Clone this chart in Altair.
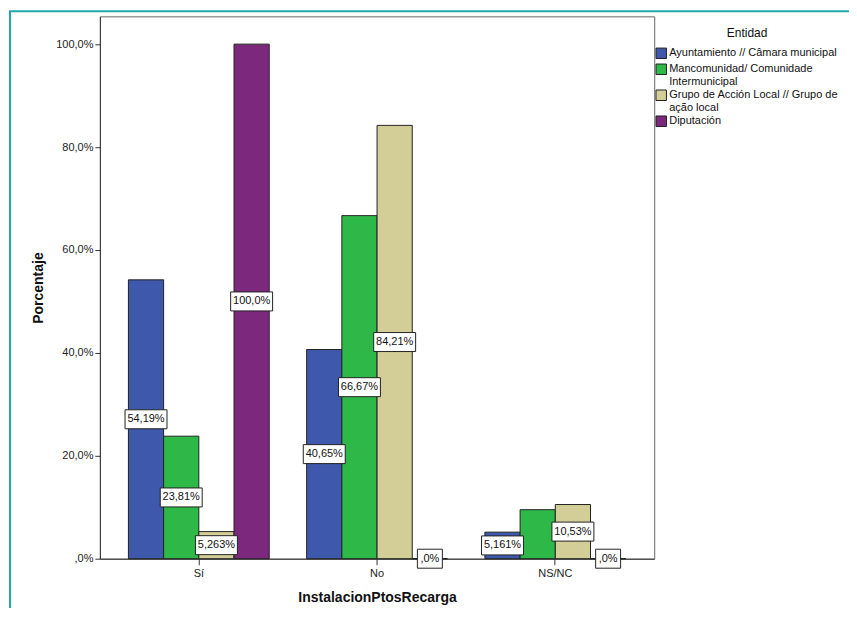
import altair as alt
import pandas as pd

categories = ["Sí", "No", "NS/NC"]
entities = [
    "Ayuntamiento // Câmara municipal",
    "Mancomunidad/ Comunidade\nIntermunicipal",
    "Grupo de Acción Local // Grupo de\nação local",
    "Diputación",
]
colors = ["#3E58AC", "#2EB848", "#D3CE97", "#7C287D"]

ayuntamiento = [54.19, 40.65, 5.161]
mancomunidad = [23.81, 66.67, 9.524]
grupo = [5.263, 84.21, 10.53]
diputacion = [100.0, 0.0, 0.0]

lab_ayuntamiento = ["54,19%", "40,65%", "5,161%"]
lab_mancomunidad = ["23,81%", "66,67%", ""]
lab_grupo = ["5,263%", "84,21%", "10,53%"]
lab_diputacion = ["100,0%", ",0%", ",0%"]

series = [ayuntamiento, mancomunidad, grupo, diputacion]
labels = [lab_ayuntamiento, lab_mancomunidad, lab_grupo, lab_diputacion]

rows = []
for ent, vals, labs in zip(entities, series, labels):
    for cat, v, l in zip(categories, vals, labs):
        rows.append({"cat": cat, "entidad": ent, "value": v, "label": l,
                     "box": "short" if len(l) <= 3 else "long"})
df = pd.DataFrame(rows)

FONT = "Liberation Sans"

x_enc = alt.X(
    "cat:N", sort=categories,
    scale=alt.Scale(domain=categories, paddingInner=0.21, paddingOuter=0.16),
    axis=alt.Axis(title="InstalacionPtosRecarga", labelAngle=0, tickSize=6,
                  labelPadding=3, titlePadding=12, titleFontSize=14,
                  titleFontWeight="bold", labelFontSize=11, domainColor="#333",
                  tickColor="#333", labelColor="#222", titleColor="#111"),
)
xo_enc = alt.XOffset("entidad:N", sort=entities, scale=alt.Scale(domain=entities))
y_axis = alt.Axis(
    title="Porcentaje", values=[0, 20, 40, 60, 80, 100], grid=False, tickSize=5,
    labelExpr="datum.value == 0 ? ',0%' : replace(format(datum.value, '.1f'), '.', ',') + '%'",
    labelFontSize=11, labelPadding=2, titlePadding=10, titleFontSize=14,
    titleFontWeight="bold", domainColor="#333", tickColor="#333",
    labelColor="#222", titleColor="#111",
)
y_scale = alt.Scale(domain=[0, 105.4], nice=False, zero=True)

base = alt.Chart(df)

bars = base.mark_bar(stroke="#222", strokeWidth=1).encode(
    x=x_enc, xOffset=xo_enc,
    y=alt.Y("value:Q", scale=y_scale, axis=y_axis),
    color=alt.Color(
        "entidad:N", sort=entities,
        scale=alt.Scale(domain=entities, range=colors),
        legend=alt.Legend(
            title="Entidad", orient="none", legendX=556, legendY=12,
            symbolType="square", symbolSize=110, symbolStrokeColor="#222",
            symbolStrokeWidth=1, symbolOpacity=1, labelFontSize=11,
            titleFontSize=12, titleFontWeight="normal", titleAnchor="middle",
            labelExpr="split(datum.label, '\\n')", labelLimit=300,
            rowPadding=0, labelOffset=2, padding=0, titlePadding=7,
            labelColor="#111", titleColor="#111",
        ),
    ),
)

shown = base.transform_filter("datum.label != ''").transform_calculate(mid="datum.value / 2")

boxes = shown.mark_point(filled=True, fill="white", stroke="#222",
                         strokeWidth=1, opacity=1, size=400).encode(
    x=x_enc, xOffset=xo_enc,
    y=alt.Y("mid:Q", scale=y_scale, axis=y_axis),
    shape=alt.Shape("box:N", scale=alt.Scale(
        domain=["long", "short"],
        range=["M-2.1,-0.95H2.1V0.95H-2.1Z", "M-1.25,-0.95H1.25V0.95H-1.25Z"]),
        legend=None),
)

texts = shown.mark_text(fontSize=11, font=FONT, color="#111", baseline="middle",
                        align="center").encode(
    x=x_enc, xOffset=xo_enc,
    y=alt.Y("mid:Q", scale=y_scale, axis=y_axis),
    text="label:N",
)

frame_df = pd.DataFrame({"k": [0]})
frame_v = alt.Chart(frame_df).mark_rule(color="#20A8A8", strokeWidth=2).encode(
    x=alt.value(-90), y=alt.value(-5), y2=alt.value(620))
frame_h = alt.Chart(frame_df).mark_rule(color="#20A8A8", strokeWidth=2).encode(
    x=alt.value(-91), x2=alt.value(760), y=alt.value(-5))

chart = alt.layer(bars, boxes, texts, frame_v, frame_h).properties(
    width=555, height=543,
    autosize=alt.AutoSizeParams(type="none"),
    padding={"left": 92, "top": 8, "right": 195, "bottom": 49},
).configure(font=FONT).configure_view(stroke="#666", strokeWidth=1)

chart.save("out.html", embed_options={"renderer": "svg", "actions": False})
